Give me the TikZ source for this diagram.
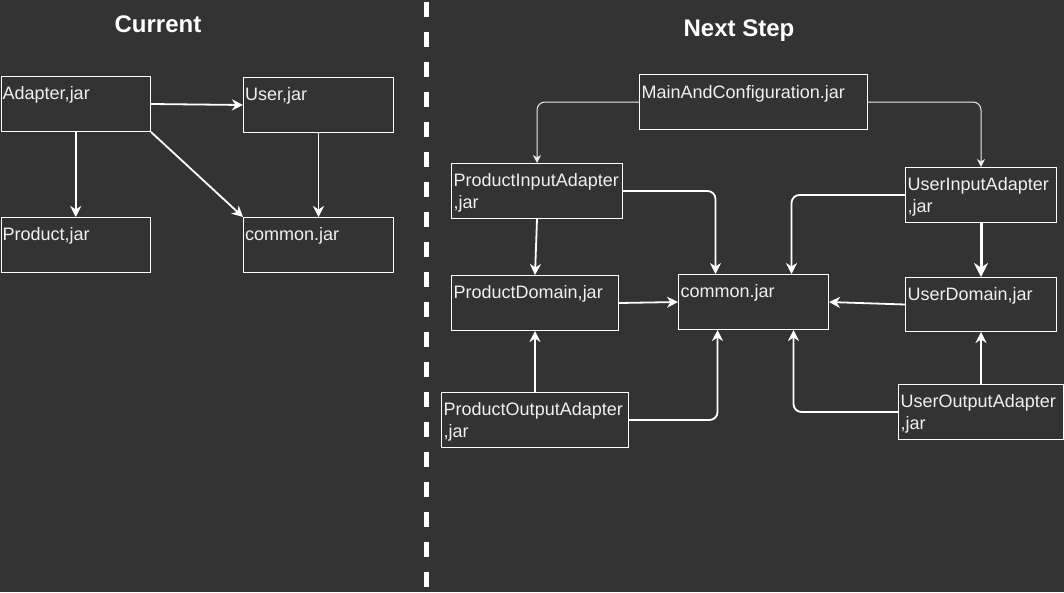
\documentclass[tikz,border=0pt]{standalone}
\usepackage{fontspec}
\setmainfont{Liberation Sans}
\usetikzlibrary{arrows.meta,calc}
\definecolor{bg}{HTML}{333333}
\definecolor{fg}{HTML}{F0F0F0}
\begin{document}
\begin{tikzpicture}[x=1pt,y=-1pt,
  box/.style={draw=white, line width=1pt, rectangle, inner sep=0pt, anchor=north west},
  lbl/.style={anchor=base west, inner sep=0pt, text=fg, font=\fontsize{18}{22}\selectfont},
  ttl/.style={anchor=base, inner sep=0pt, text=white, font=\fontsize{24}{28}\selectfont\bfseries},
  arr/.style={draw=white, line width=1.8pt, -{Stealth[length=11pt,width=11pt,inset=3.5pt]}},
  thinarr/.style={draw=white!85!gray, line width=1pt, -{Stealth[length=8pt,width=8pt,inset=2.5pt]}},
  thickarr/.style={draw=white, line width=3pt, -{Stealth[length=14pt,width=14pt,inset=4.5pt]}},
  sepline/.style={draw=white, line width=5pt, dash pattern=on 15pt off 15pt},
]
\fill[bg] (0,0) rectangle (1064,592);
\useasboundingbox (0,0) rectangle (1064,592);

% separator
\coordinate (s1) at (426.5,2);
\coordinate (s2) at (426.5,592);
\draw[sepline] (s1) -- (s2);

% titles
\node[ttl] (t1) at (158,32) {Current};
\node[ttl] (t2) at (739,36) {Next Step};

% left boxes
\node[box, minimum width=149.5pt, minimum height=55pt] (ad) at (0.5,76) {};
\node[box, minimum width=150pt, minimum height=55pt] (us) at (243,77) {};
\node[box, minimum width=149.5pt, minimum height=55pt] (pr) at (0.5,217) {};
\node[box, minimum width=150pt, minimum height=55pt] (cl) at (243,217) {};

\node[lbl] (ladl) at ($(ad.north west)+(2,23.5)$) {Adapter,jar};
\node[lbl] (lus) at ($(us.north west)+(2,23.5)$) {User,jar};
\node[lbl] (lpr) at ($(pr.north west)+(2,23.5)$) {Product,jar};
\node[lbl] (lcl) at ($(cl.north west)+(2,23.5)$) {common.jar};

% right boxes
\node[box, minimum width=228pt, minimum height=55pt] (main) at (639,74) {};
\node[box, minimum width=171pt, minimum height=55pt] (pia) at (451,163) {};
\node[box, minimum width=151pt, minimum height=55pt] (uia) at (905,167) {};
\node[box, minimum width=167pt, minimum height=55pt] (pd) at (451,275) {};
\node[box, minimum width=150pt, minimum height=55pt] (cr) at (678,274) {};
\node[box, minimum width=151pt, minimum height=54pt] (ud) at (905,277) {};
\node[box, minimum width=187pt, minimum height=55pt] (poa) at (441,392) {};
\node[box, minimum width=165pt, minimum height=55pt] (uoa) at (898,384) {};

\node[lbl] (lmain) at ($(main.north west)+(2.5,24)$) {MainAndConfiguration.jar};
\node[lbl] (lpia1) at ($(pia.north west)+(2.5,23.5)$) {ProductInputAdapter};
\node[lbl] (lpia2) at ($(pia.north west)+(2.5,45)$) {,jar};
\node[lbl] (luia1) at ($(uia.north west)+(2.5,23.5)$) {UserInputAdapter};
\node[lbl] (luia2) at ($(uia.north west)+(2.5,45)$) {,jar};
\node[lbl] (lpd) at ($(pd.north west)+(2.5,23.5)$) {ProductDomain,jar};
\node[lbl] (lcr) at ($(cr.north west)+(2.5,23.5)$) {common.jar};
\node[lbl] (lud) at ($(ud.north west)+(2.5,23.5)$) {UserDomain,jar};
\node[lbl] (lpoa1) at ($(poa.north west)+(2.5,23.5)$) {ProductOutputAdapter};
\node[lbl] (lpoa2) at ($(poa.north west)+(2.5,45)$) {,jar};
\node[lbl] (luoa1) at ($(uoa.north west)+(2.5,23.5)$) {UserOutputAdapter};
\node[lbl] (luoa2) at ($(uoa.north west)+(2.5,45)$) {,jar};

% left connectors
\draw[arr] (ad.east) -- (us.west);
\draw[arr] (ad.south) -- (pr.north);
\draw[arr] (ad.south east) -- (cl.north west);
\draw[arr] (us.south) -- (cl.north);

% right connectors
\draw[thinarr, rounded corners=8pt] (main.west) -| (pia.north);
\draw[thinarr, rounded corners=8pt] (main.east) -| (uia.north);
\draw[arr, rounded corners=8pt] (pia.east) -| ($(cr.north)+(-38,0)$);
\draw[arr, rounded corners=8pt] (uia.west) -| ($(cr.north)+(38,0)$);
\draw[arr] (pia.south) -- (pd.north);
\draw[thickarr] (uia.south) -- (ud.north);
\draw[arr] (pd.east) -- (cr.west);
\draw[arr] (ud.west) -- (cr.east);
\draw[arr] (poa.north) -- (pd.south);
\draw[arr] (uoa.north) -- (ud.south);
\draw[arr, rounded corners=8pt] (poa.east) -| ($(cr.south)+(-36,0)$);
\draw[arr, rounded corners=8pt] (uoa.west) -| ($(cr.south)+(40,0)$);
\end{tikzpicture}
\end{document}
